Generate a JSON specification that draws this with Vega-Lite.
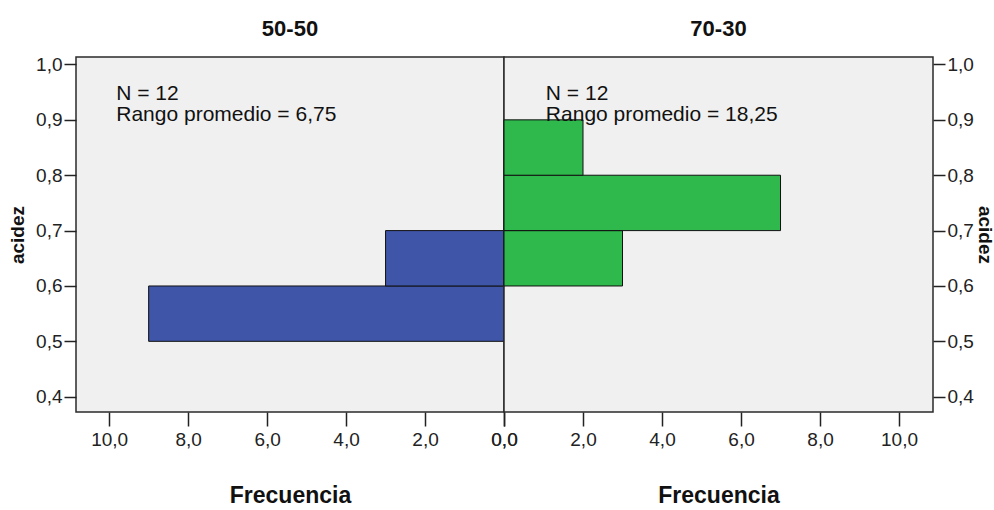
{
  "$schema": "https://vega.github.io/schema/vega-lite/v6.json",
  "padding": {"left": 7, "top": 17, "right": 0, "bottom": 0},
  "background": "white",
  "bounds": "flush",
  "config": {
    "locale": {"number": {"decimal": ",", "thousands": ".", "grouping": [3], "currency": ["", " €"]}},
    "font": "Liberation Sans",
    "view": {"fill": "#f0f0f0", "stroke": "#2a2a2a", "strokeWidth": 1.5},
    "concat": {"spacing": 0},
    "axis": {
      "domain": false,
      "grid": false,
      "labelFont": "Liberation Sans",
      "labelFontSize": 19,
      "labelColor": "#222",
      "labelFlush": false,
      "tickColor": "#222",
      "tickWidth": 1.5,
      "titleFont": "Liberation Sans",
      "titleFontWeight": "bold",
      "titleColor": "#111"
    },
    "axisX": {"tickSize": 14, "labelPadding": 4, "titleFontSize": 23, "titlePadding": 35},
    "axisY": {"tickSize": 12, "labelPadding": 2, "titleFontSize": 19},
    "title": {"fontSize": 22, "fontWeight": "bold", "color": "#111", "baseline": "alphabetic", "offset": 14, "anchor": "middle"}
  },
  "datasets": {
    "barras": [
      {"grupo": "50-50", "desde": 0.5, "hasta": 0.6, "frecuencia": 9},
      {"grupo": "50-50", "desde": 0.6, "hasta": 0.7, "frecuencia": 3},
      {"grupo": "70-30", "desde": 0.6, "hasta": 0.7, "frecuencia": 3},
      {"grupo": "70-30", "desde": 0.7, "hasta": 0.8, "frecuencia": 7},
      {"grupo": "70-30", "desde": 0.8, "hasta": 0.9, "frecuencia": 2}
    ],
    "resumen": [
      {"grupo": "50-50", "n": 12, "rango": 6.75},
      {"grupo": "70-30", "n": 12, "rango": 18.25}
    ]
  },
  "hconcat": [
    {
      "title": "50-50",
      "width": 428,
      "height": 355,
      "layer": [
        {
          "data": {"name": "barras"},
          "transform": [{"filter": "datum.grupo === '50-50'"}],
          "mark": {"type": "rect", "fill": "#3f55a8", "stroke": "#111", "strokeWidth": 1},
          "encoding": {
            "x": {
              "field": "frecuencia", "type": "quantitative",
              "scale": {"domain": [0, 10.84], "reverse": true, "nice": false},
              "axis": {"values": [0, 2, 4, 6, 8, 10], "format": ".1f", "title": "Frecuencia"}
            },
            "x2": {"datum": 0},
            "y": {
              "field": "desde", "type": "quantitative",
              "scale": {"domain": [0.3724, 1.0135], "nice": false, "zero": false},
              "axis": {"values": [0.4, 0.5, 0.6, 0.7, 0.8, 0.9, 1.0], "format": ".1f", "title": "acidez", "orient": "left", "titlePadding": 8}
            },
            "y2": {"field": "hasta"}
          }
        },
        {
          "data": {"name": "resumen"},
          "transform": [
            {"filter": "datum.grupo === '50-50'"},
            {"calculate": "['N = ' + datum.n, 'Rango promedio = ' + replace(format(datum.rango, '.2f'), '.', ',')]", "as": "etiqueta"}
          ],
          "mark": {"type": "text", "align": "left", "baseline": "alphabetic", "fontSize": 21, "lineHeight": 21, "color": "#111"},
          "encoding": {
            "x": {"datum": 9.82, "type": "quantitative"},
            "y": {"datum": 0.936, "type": "quantitative"},
            "text": {"field": "etiqueta"}
          }
        }
      ]
    },
    {
      "title": "70-30",
      "width": 429,
      "height": 355,
      "layer": [
        {
          "data": {"name": "barras"},
          "transform": [{"filter": "datum.grupo === '70-30'"}],
          "mark": {"type": "rect", "fill": "#2fb84c", "stroke": "#111", "strokeWidth": 1},
          "encoding": {
            "x": {
              "field": "frecuencia", "type": "quantitative",
              "scale": {"domain": [0, 10.86], "nice": false},
              "axis": {"values": [0, 2, 4, 6, 8, 10], "format": ".1f", "title": "Frecuencia"}
            },
            "x2": {"datum": 0},
            "y": {
              "field": "desde", "type": "quantitative",
              "scale": {"domain": [0.3724, 1.0135], "nice": false, "zero": false},
              "axis": {"values": [0.4, 0.5, 0.6, 0.7, 0.8, 0.9, 1.0], "format": ".1f", "title": "acidez", "orient": "right", "titlePadding": 1}
            },
            "y2": {"field": "hasta"}
          }
        },
        {
          "data": {"name": "resumen"},
          "transform": [
            {"filter": "datum.grupo === '70-30'"},
            {"calculate": "['N = ' + datum.n, 'Rango promedio = ' + replace(format(datum.rango, '.2f'), '.', ',')]", "as": "etiqueta"}
          ],
          "mark": {"type": "text", "align": "left", "baseline": "alphabetic", "fontSize": 21, "lineHeight": 21, "color": "#111"},
          "encoding": {
            "x": {"datum": 1.06, "type": "quantitative"},
            "y": {"datum": 0.936, "type": "quantitative"},
            "text": {"field": "etiqueta"}
          }
        }
      ]
    }
  ]
}
